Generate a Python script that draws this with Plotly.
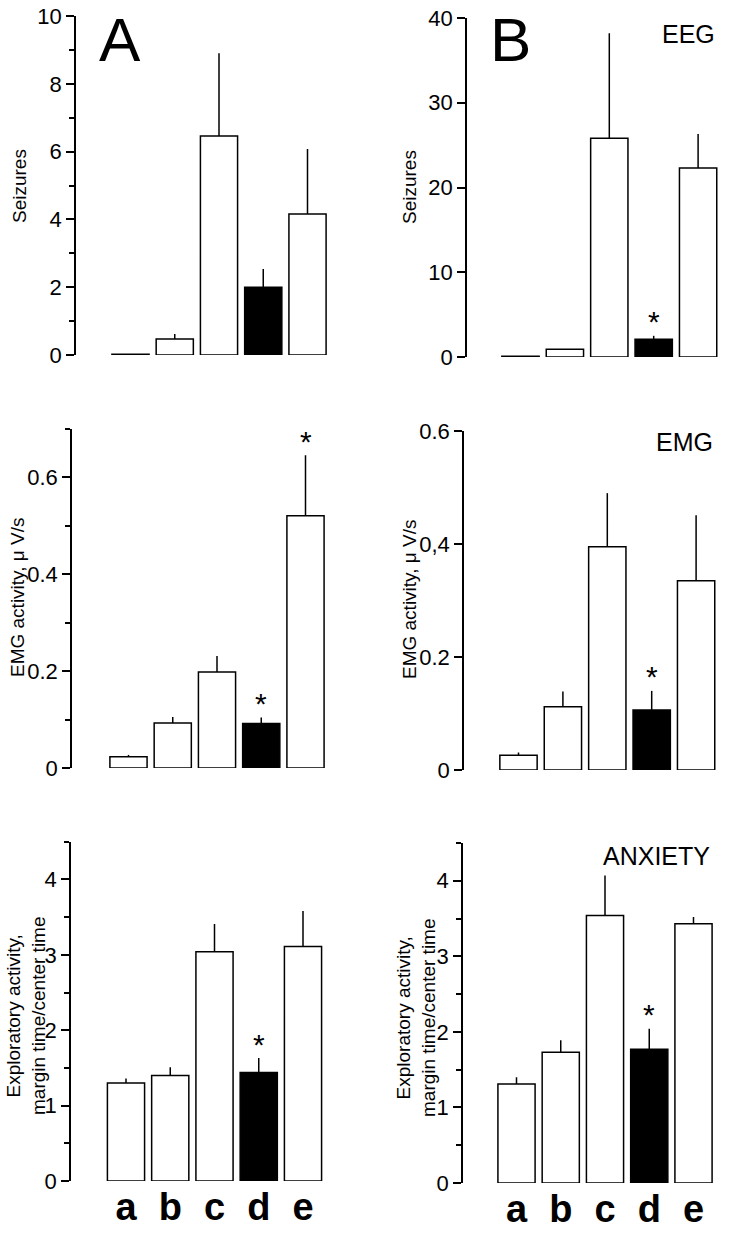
import plotly.graph_objects as go

W, H = 736, 1235
FONT = "Liberation Sans, Arial, Helvetica, sans-serif"

groups = ['a', 'b', 'c', 'd', 'e']
bar_colors = ['white', 'white', 'white', 'black', 'white']

# A - seizures
a_seiz = [0.02, 0.47, 6.46, 2.0, 4.16]
a_seiz_err = [0, 0.15, 2.44, 0.54, 1.92]
a_seiz_star = []
# B - seizures (EEG)
b_seiz = [0.1, 0.9, 25.8, 2.1, 22.3]
b_seiz_err = [0, 0, 12.4, 0.4, 4.0]
b_seiz_star = ['d']
# A - EMG activity
a_emg = [0.023, 0.093, 0.198, 0.092, 0.52]
a_emg_err = [0.004, 0.012, 0.033, 0.012, 0.125]
a_emg_star = ['d', 'e']
# B - EMG activity
b_emg = [0.026, 0.112, 0.395, 0.106, 0.335]
b_emg_err = [0.005, 0.027, 0.095, 0.034, 0.116]
b_emg_star = ['d']
# A - exploratory activity
a_expl = [1.30, 1.40, 3.04, 1.44, 3.11]
a_expl_err = [0.06, 0.11, 0.37, 0.19, 0.47]
a_expl_star = ['d']
# B - exploratory activity (anxiety)
b_expl = [1.31, 1.73, 3.54, 1.77, 3.43]
b_expl_err = [0.09, 0.16, 0.53, 0.27, 0.09]
b_expl_star = ['d']

# tick labels
seiz_a_ticks = [0, 2, 4, 6, 8, 10]
seiz_b_ticks = [0, 10, 20, 30, 40]
emg_ticks = [0, 0.2, 0.4, 0.6]
emg_a_ticktext = ['0', '0.2', '0.4', '0.6']
emg_b_ticktext = ['0', '0.2', '0,4', '0.6']
expl_ticks = [0, 1, 2, 3, 4]

fig = go.Figure()


def px_x(p):
    return p / W


def px_y(p):
    return 1 - p / H


def add_panel(n, vals, errs, stars, axis_px, c0_px, pitch, y0_px, ytop_px, ymax,
              ticks, ticktext, minor, show_cats):
    xa = 'x' if n == 1 else f'x{n}'
    ya = 'y' if n == 1 else f'y{n}'
    xs = list(range(len(groups)))
    fig.add_trace(go.Bar(
        x=xs, y=vals, width=0.84,
        marker=dict(color=bar_colors, line=dict(color='black', width=1.5)),
        error_y=dict(type='data', array=errs, arrayminus=[0] * len(errs),
                     symmetric=False, width=0, thickness=1.5, color='black'),
        xaxis=xa, yaxis=ya, showlegend=False, hoverinfo='skip'))
    x_left = (axis_px - c0_px) / pitch
    x_right = 4 + 28 / pitch
    xkey = 'xaxis' if n == 1 else f'xaxis{n}'
    ykey = 'yaxis' if n == 1 else f'yaxis{n}'
    fig.layout[xkey] = dict(
        domain=[px_x(axis_px), px_x(c0_px + 4 * pitch + 28)],
        range=[x_left, x_right], anchor=ya, showline=False, showgrid=False,
        zeroline=False, ticks='', fixedrange=True, automargin=False,
        tickvals=xs, ticktext=[f'<b>{g}</b>' for g in groups],
        showticklabels=show_cats, ticklabelstandoff=0,
        tickfont=dict(family=FONT, size=38, color='black'))
    ydict = dict(
        domain=[px_y(y0_px), px_y(ytop_px)], range=[0, ymax], anchor=xa,
        showline=True, linecolor='black', linewidth=1.5, showgrid=False,
        zeroline=False, ticks='outside', ticklen=8, tickwidth=1.5,
        tickcolor='black', tickvals=ticks, ticktext=ticktext, automargin=False,
        tickfont=dict(family=FONT, size=22, color='black'), fixedrange=True)
    if minor:
        ydict['minor'] = dict(tickvals=minor, ticks='outside', ticklen=5,
                              tickwidth=1.5, tickcolor='black', showgrid=False)
    fig.layout[ykey] = ydict
    for g in stars:
        i = groups.index(g)
        fig.add_annotation(x=i, y=vals[i] + errs[i], xref=xa, yref=ya,
                           text='*', showarrow=False, yanchor='middle',
                           yshift=14, font=dict(family=FONT, size=30, color='black'))


add_panel(1, a_seiz, a_seiz_err, a_seiz_star, 76, 130.5, 44.25, 355, 16, 10,
          seiz_a_ticks, [str(t) for t in seiz_a_ticks], [1, 3, 5, 7, 9], False)
add_panel(2, b_seiz, b_seiz_err, b_seiz_star, 467, 520.5, 44.4, 357, 18, 40,
          seiz_b_ticks, [str(t) for t in seiz_b_ticks], None, False)
add_panel(3, a_emg, a_emg_err, a_emg_star, 72, 128.5, 44.25, 768, 428.5, 0.7,
          emg_ticks, emg_a_ticktext, [0.1, 0.3, 0.5, 0.7], False)
add_panel(4, b_emg, b_emg_err, b_emg_star, 464, 518.5, 44.4, 770, 431, 0.6,
          emg_ticks, emg_b_ticktext, None, False)
add_panel(5, a_expl, a_expl_err, a_expl_star, 71, 126, 44.25, 1181, 841.7, 4.5,
          expl_ticks, [str(t) for t in expl_ticks], [0.5, 1.5, 2.5, 3.5, 4.5], True)
add_panel(6, b_expl, b_expl_err, b_expl_star, 463, 516.5, 44.25, 1183, 843, 4.5,
          expl_ticks, [str(t) for t in expl_ticks], [0.5, 1.5, 2.5, 3.5, 4.5], True)

# y axis titles
y_titles = [
    ('Seizures', 20, 186),
    ('Seizures', 410, 187),
    ('EMG activity, \u03bc V/s', 18, 598),
    ('EMG activity, \u03bc V/s', 410, 600),
    ('Exploratory activity,<br>margin time/center time', 26, 1016),
    ('Exploratory activity,<br>margin time/center time', 416, 1017),
]
for txt, xp, yp in y_titles:
    fig.add_annotation(text=txt, x=px_x(xp), y=px_y(yp), xref='paper', yref='paper',
                       textangle=-90, showarrow=False, xanchor='center', yanchor='middle',
                       font=dict(family=FONT, size=19, color='black'))

# panel letters
for txt, xp, yp in [('A', 120, 40), ('B', 511, 40)]:
    fig.add_annotation(text=txt, x=px_x(xp), y=px_y(yp), xref='paper', yref='paper',
                       showarrow=False, xanchor='center', yanchor='middle',
                       font=dict(family=FONT, size=62, color='black'))

# measure labels
for txt, xp, yp in [('EEG', 717, 34), ('EMG', 715, 442), ('ANXIETY', 712, 856)]:
    fig.add_annotation(text=txt, x=px_x(xp), y=px_y(yp), xref='paper', yref='paper',
                       showarrow=False, xanchor='right', yanchor='middle',
                       font=dict(family=FONT, size=25, color='black'))

fig.update_layout(
    width=W, height=H, autosize=False, template='none',
    margin=dict(l=0, r=0, t=0, b=0, pad=0),
    paper_bgcolor='white', plot_bgcolor='white',
    bargap=0.16, font=dict(family=FONT, color='black'),
)

# drop the browser's default page margin so the figure sits at the window corner
fig.write_html("out.html", config={'displayModeBar': False},
               post_script="document.body.style.margin='0px';")
